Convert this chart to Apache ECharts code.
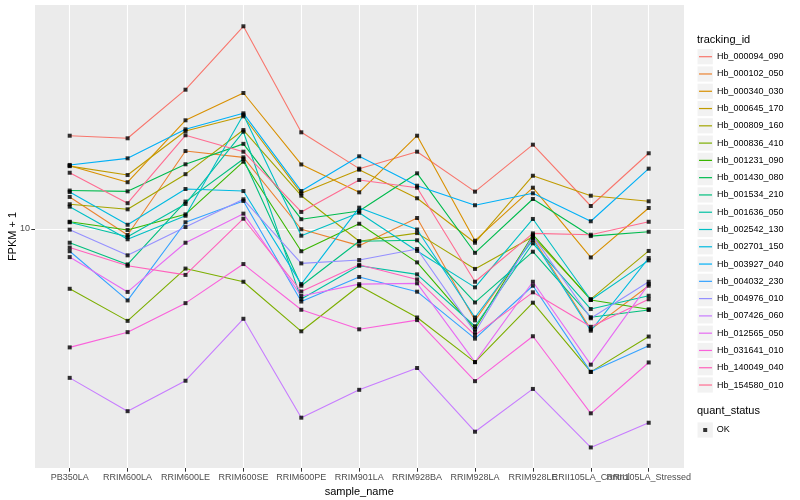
<!DOCTYPE html>
<html><head><meta charset="utf-8">
<script src="https://cdn.jsdelivr.net/npm/echarts@6/dist/echarts.min.js"></script>
<style>html,body{margin:0;padding:0;background:#fff}#c{width:800px;height:500px}</style>
</head><body><div id="c"></div>
<script>
const categories = ['PB350LA','RRIM600LA','RRIM600LE','RRIM600SE','RRIM600PE','RRIM901LA','RRIM928BA','RRIM928LA','RRIM928LE','RRII105LA_Control','RRII105LA_Stressed'];

const Hb_000094_090 = [20.46, 20.06, 29.13, 47.39, 21.0, 15.89, 18.1, 13.32, 19.1, 11.93, 17.88];
const Hb_000102_050 = [12.79, 9.55, 18.19, 17.33, 9.98, 8.8, 10.88, 4.96, 9.33, 4.63, 6.47];
const Hb_000340_030 = [16.26, 14.32, 23.03, 28.4, 16.41, 13.25, 20.46, 9.14, 13.73, 8.04, 11.75];
const Hb_000645_170 = [16.2, 15.13, 21.21, 23.75, 13.15, 15.76, 12.66, 9.0, 15.05, 12.91, 12.37];
const Hb_000809_160 = [12.09, 11.63, 15.23, 21.37, 12.91, 9.1, 9.69, 7.36, 9.42, 5.84, 8.45];
const Hb_000836_410 = [6.32, 4.94, 7.38, 6.67, 4.56, 6.47, 5.07, 3.6, 5.68, 3.34, 4.38];
const Hb_001231_090 = [10.57, 9.92, 11.19, 16.76, 8.43, 10.41, 7.74, 4.64, 9.57, 5.8, 5.4];
const Hb_001430_080 = [13.43, 13.35, 16.43, 19.22, 10.78, 11.48, 15.33, 8.33, 12.59, 9.47, 9.79];
const Hb_001534_210 = [9.0, 7.62, 12.34, 17.11, 6.47, 9.1, 9.17, 5.69, 8.4, 5.08, 5.37];
const Hb_001636_050 = [10.53, 9.42, 12.12, 21.1, 5.84, 7.54, 7.06, 4.74, 8.96, 5.41, 5.99];
const Hb_002542_130 = [11.87, 9.24, 11.07, 24.04, 9.5, 11.33, 8.45, 6.39, 10.8, 5.8, 7.86];
const Hb_002701_150 = [13.28, 10.33, 13.59, 13.38, 6.55, 11.78, 9.96, 5.07, 9.19, 4.58, 8.0];
const Hb_003927_040 = [16.35, 17.2, 21.49, 24.3, 13.38, 17.47, 13.94, 12.0, 13.15, 10.61, 15.89];
const Hb_004032_230 = [8.43, 5.78, 10.53, 12.4, 5.73, 6.92, 6.18, 4.31, 6.47, 3.34, 4.08];
const Hb_004976_010 = [9.95, 8.17, 10.15, 12.56, 7.68, 7.88, 8.58, 4.53, 9.47, 5.04, 6.67];
const Hb_007426_060 = [3.19, 2.47, 3.12, 5.02, 2.35, 2.91, 3.44, 2.11, 2.93, 1.87, 2.26];
const Hb_012565_050 = [8.06, 6.17, 9.0, 11.25, 5.98, 6.55, 6.59, 3.6, 6.67, 3.53, 6.55];
const Hb_031641_010 = [4.03, 4.53, 5.66, 7.64, 5.38, 4.63, 4.97, 3.11, 4.39, 2.43, 3.59];
const Hb_140049_040 = [8.67, 7.54, 7.03, 10.82, 6.19, 7.6, 6.79, 4.43, 6.15, 4.72, 5.83];
const Hb_154580_010 = [15.4, 12.19, 20.53, 18.1, 11.4, 14.57, 13.73, 6.67, 9.67, 9.57, 10.57];

const trackingIds = ['Hb_000094_090','Hb_000102_050','Hb_000340_030','Hb_000645_170','Hb_000809_160','Hb_000836_410','Hb_001231_090','Hb_001430_080','Hb_001534_210','Hb_001636_050','Hb_002542_130','Hb_002701_150','Hb_003927_040','Hb_004032_230','Hb_004976_010','Hb_007426_060','Hb_012565_050','Hb_031641_010','Hb_140049_040','Hb_154580_010'];
const seriesValues = [Hb_000094_090,Hb_000102_050,Hb_000340_030,Hb_000645_170,Hb_000809_160,Hb_000836_410,Hb_001231_090,Hb_001430_080,Hb_001534_210,Hb_001636_050,Hb_002542_130,Hb_002701_150,Hb_003927_040,Hb_004032_230,Hb_004976_010,Hb_007426_060,Hb_012565_050,Hb_031641_010,Hb_140049_040,Hb_154580_010];
const hueColors = ['#F8766D','#EA8331','#D89000','#C09B00','#A3A500','#7CAE00','#39B600','#00BB4E','#00BF7D','#00C1A3','#00BFC4','#00BAE0','#00B0F6','#35A2FF','#9590FF','#C77CFF','#E76BF3','#FA62DB','#FF62BC','#FF6C91'];
const quantStatus = ['OK'];
const yTickValues = [10];
const yMin = 1.597, yMax = 55.8;

const font = '"Liberation Sans", Arial, sans-serif';
const chart = echarts.init(document.getElementById('c'), null, {renderer: 'canvas'});

const lineSeries = trackingIds.map((id, i) => ({
  name: id, type: 'line', xAxisIndex: 1, yAxisIndex: 1,
  data: seriesValues[i], showSymbol: false, symbol: 'none',
  lineStyle: {color: hueColors[i], width: 1.1},
  itemStyle: {color: hueColors[i]},
  emphasis: {disabled: true}, silent: true, z: 2
}));
const pointData = [];
seriesValues.forEach(vals => vals.forEach((v, j) => pointData.push([categories[j], v])));
const pointSeries = {
  name: quantStatus[0], type: 'scatter', xAxisIndex: 1, yAxisIndex: 1,
  data: pointData, symbol: 'rect', symbolSize: 4,
  itemStyle: {color: '#000'}, emphasis: {disabled: true}, silent: true, z: 3
};

const rowH = 17.28, row0 = 56.7;
const keyRects = trackingIds.map((id, i) => ({
  type: 'rect', silent: true, z: -1,
  shape: {x: 697.5, y: row0 + i * rowH - 7.6, width: 15.3, height: 15.2},
  style: {fill: '#F2F2F2'}
}));
keyRects.push({type: 'rect', silent: true, z: -1,
  shape: {x: 697.5, y: 430 - 7.6, width: 15.3, height: 15.2}, style: {fill: '#F2F2F2'}});

chart.setOption({
  animation: false,
  backgroundColor: '#fff',
  title: [
    {text: 'tracking_id', left: 697, top: 34, padding: 0, textStyle: {fontSize: 11, fontWeight: 'normal', color: '#000', fontFamily: font}},
    {text: 'quant_status', left: 697, top: 405.5, padding: 0, textStyle: {fontSize: 11, fontWeight: 'normal', color: '#000', fontFamily: font}}
  ],
  graphic: keyRects,
  legend: [
    {data: trackingIds, orient: 'vertical', left: 699, top: row0 - rowH / 2, padding: 0, itemGap: 0,
     icon: 'rect', itemWidth: 13, itemHeight: 1.2, selectedMode: false,
     textStyle: {fontSize: 9, color: '#000', fontFamily: font, lineHeight: rowH}},
    {data: quantStatus, orient: 'vertical', left: 703.2, top: 430 - rowH / 2, padding: 0, itemGap: 0,
     icon: 'rect', itemWidth: 4, itemHeight: 4, selectedMode: false,
     textStyle: {fontSize: 9, color: '#000', fontFamily: font, lineHeight: rowH, padding: [0, 0, 0, 4.5]}}
  ],
  grid: [
    {left: 35, top: 5, width: 649, height: 463, show: true, backgroundColor: '#EBEBEB', borderWidth: 0, containLabel: false, outerBoundsMode: 'none'},
    {left: 69.7, top: 5, width: 579, height: 463, show: false, containLabel: false, outerBoundsMode: 'none'}
  ],
  xAxis: [
    {gridIndex: 0, type: 'value', min: 0, max: 1, show: false},
    {gridIndex: 1, type: 'category', data: categories, boundaryGap: false,
     axisLine: {show: false},
     axisTick: {show: true, interval: 0, length: 3.7, lineStyle: {color: '#333', width: 1}},
     axisLabel: {interval: 0, fontSize: 9, color: '#4D4D4D', margin: 5, fontFamily: font, hideOverlap: false},
     splitLine: {show: true, interval: 0, lineStyle: {color: '#fff', width: 1.1}},
     name: 'sample_name', nameLocation: 'middle', nameGap: 16,
     nameTextStyle: {fontSize: 11, color: '#000', fontFamily: font}}
  ],
  yAxis: [
    {gridIndex: 0, type: 'log', logBase: 10, min: yMin, max: yMax,
     axisLine: {show: false},
     axisTick: {show: true, customValues: yTickValues, length: 3.7, lineStyle: {color: '#333', width: 1}},
     axisLabel: {customValues: yTickValues, fontSize: 9, color: '#4D4D4D', margin: 5, fontFamily: font},
     splitLine: {show: true, lineStyle: {color: '#fff', width: 1.1}},
     name: 'FPKM + 1', nameLocation: 'middle', nameGap: 17, nameRotate: 90, nameMoveOverlap: false,
     nameTextStyle: {fontSize: 11, color: '#000', fontFamily: font}},
    {gridIndex: 1, type: 'log', logBase: 10, min: yMin, max: yMax, show: false}
  ],
  series: [...lineSeries, pointSeries]
});
</script></body></html>
